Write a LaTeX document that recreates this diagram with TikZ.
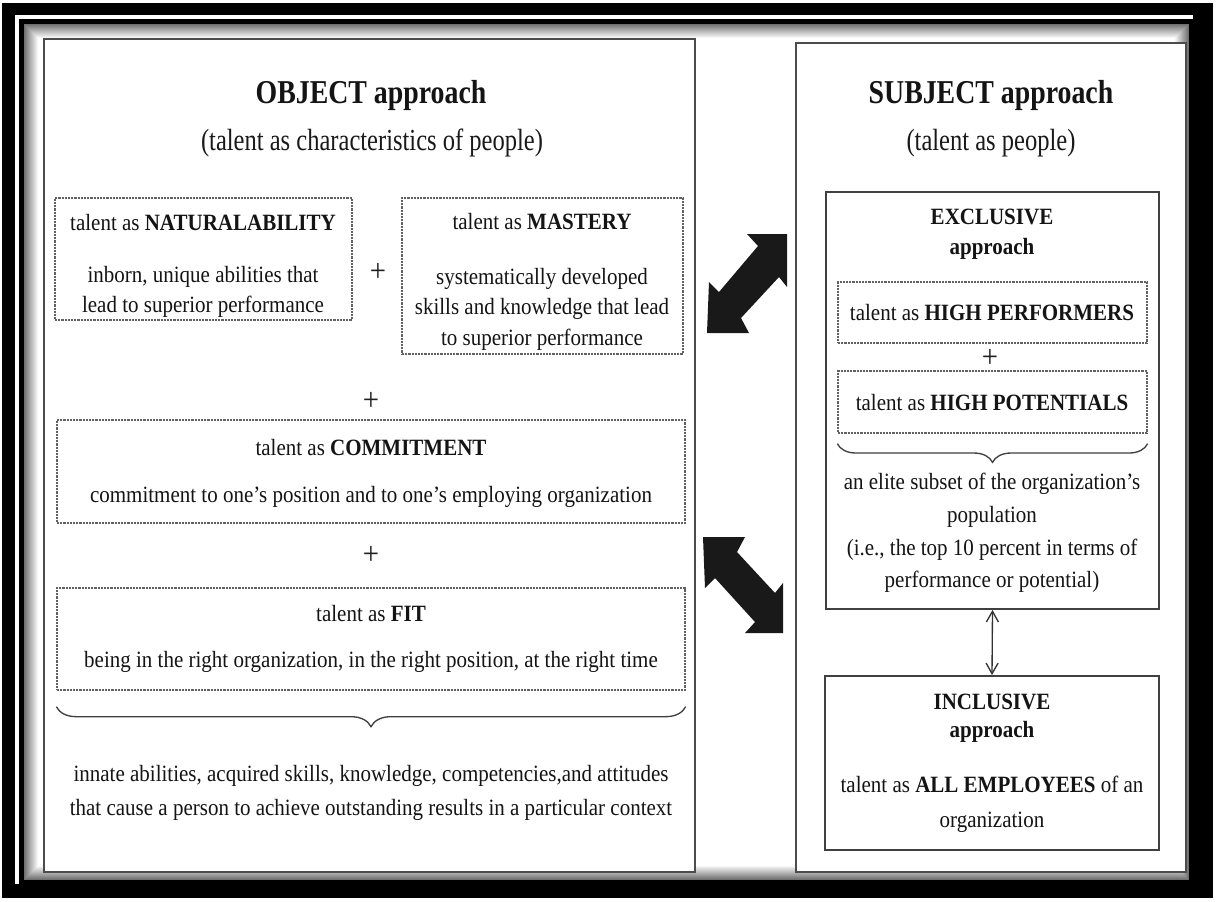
\documentclass[tikz,border=0pt]{standalone}
\usepackage{fontspec}
\setmainfont[FakeStretch=0.9]{Liberation Serif}
\newfontfamily\ttlfont[FakeStretch=0.835]{Liberation Serif}
\newfontfamily\subfont[FakeStretch=0.8]{Liberation Serif}
\usetikzlibrary{fit,calc,arrows.meta,decorations.pathreplacing}
\begin{document}
\begin{tikzpicture}[x=0.75pt,y=-0.75pt,
  txt/.style={font=\fontsize{17.5}{22.5}\selectfont, text=black!92, align=center, inner sep=0pt},
  ttl/.style={font=\ttlfont\fontsize{25}{30}\selectfont\bfseries, text=black!92, inner sep=0pt},
  subttl/.style={font=\subfont\fontsize{23}{26}\selectfont, text=black!90, inner sep=0pt},
  dbox/.style={draw=black!62, dash pattern=on 1.6pt off 0.8pt, line width=1pt, inner sep=0pt},
  sbox/.style={draw=black!75, line width=1.4pt, inner sep=0pt},
  panel/.style={draw=black!70, line width=1.6pt, fill=white, inner sep=0pt},
  bigarrow/.style={fill=black!90, draw=none},
  plussign/.style={font=\fontsize{24}{24}\selectfont, text=black!88, inner sep=0pt},
  brc/.style={draw=black!75, line width=1pt, decorate, decoration={brace, mirror, amplitude=#1}},
  thinarrow/.style={draw=black!80, line width=1pt, {Straight Barb[length=8pt,width=9pt]}-{Straight Barb[length=8pt,width=9pt]}},
]
\useasboundingbox (0,0) rectangle (1217,901);
\fill[white] (0,0) rectangle (1217,901);
% outer frame
\fill[black] (2,3) rectangle (1213,898);
\fill[white] (15,15) rectangle (1193,884);
\fill[black] (19,19) rectangle (1193,884);
\foreach \i [evaluate=\i as \c using 56-4*\i] in {0,...,14}
  \fill[black!\c] (24+\i,24+\i) rectangle (1189-\i,880-\i);

% panels
\node[panel, fit={(44,39) (695,872)}] (objp) {};
\node[panel, fit={(796,43) (1186,872)}] (subjp) {};

% ---------- left panel ----------
\node[ttl] (objt) at (371,95) {OBJECT approach};
\node[subttl] (objs) at (372,143) {(talent as characteristics of people)};

\node[dbox, fit={(55,198) (352,320)}] (nat) {};
\node[txt] (natt) at (203,223) {talent as \textbf{NATURALABILITY}};
\node[txt] (natb) at (203,292) {inborn, unique abilities that\\lead to superior performance};

\node[plussign] (p1) at (378,272) {+};

\node[dbox, fit={(402,198) (683,354)}] (mas) {};
\node[txt] (mast) at (542,222) {talent as \textbf{MASTERY}};
\node[txt, font=\fontsize{17.5}{22.8}\selectfont] (masb) at (542,309) {systematically developed\\skills and knowledge that lead\\to superior performance};

\node[plussign] (p2) at (371,401) {+};

\node[dbox, fit={(57,420) (685,523)}] (com) {};
\node[txt] (comt) at (371,448) {talent as \textbf{COMMITMENT}};
\node[txt] (comb) at (371,497) {commitment to one’s position and to one’s employing organization};

\node[plussign] (p3) at (371,555) {+};

\node[dbox, fit={(57,588) (685,690)}] (fitb) {};
\node[txt] (fitt) at (371,614) {talent as \textbf{FIT}};
\node[txt] (fitd) at (371,662) {being in the right organization, in the right position, at the right time};

\draw[brc=15pt] ($(fitb.south west)+(0,16)$) -- ($(fitb.south east)+(0,16)$);

\node[txt, font=\fontsize{17.5}{25.5}\selectfont] (inn) at (371,793) {innate abilities, acquired skills, knowledge, competencies,and attitudes\\that cause a person to achieve outstanding results in a particular context};

% ---------- big arrows ----------
\fill[bigarrow] (707,333) -- (749,333) -- (741,318) -- (779,277) -- (787,287) -- (787,234)
  -- (747,234) -- (758,246) -- (719,292) -- (709,282) -- cycle;
\fill[bigarrow] (703,537) -- (745,537) -- (737,552) -- (775,593) -- (783,583) -- (783,633)
  -- (745,633) -- (755,622) -- (715,578) -- (705,588) -- cycle;

% ---------- right panel ----------
\node[ttl] (subt) at (991,95) {SUBJECT approach};
\node[subttl] (subs) at (991,143) {(talent as people)};

\node[sbox, fit={(826,192) (1159,609)}] (excl) {};
\node[txt, font=\fontsize{17.5}{22.5}\selectfont\bfseries] (exclt) at (992,234) {EXCLUSIVE\\approach};

\node[dbox, fit={(838,282) (1147,343)}] (hp) {};
\node[txt] (hpt) at (992,313) {talent as \textbf{HIGH PERFORMERS}};

\node[plussign] (p4) at (990,358) {+};

\node[dbox, fit={(838,371) (1147,433)}] (hpot) {};
\node[txt] (hpott) at (992,403) {talent as \textbf{HIGH POTENTIALS}};

\draw[brc=14pt] ($(hpot.south west)+(0,10)$) -- ($(hpot.south east)+(0,10)$);

\node[txt, font=\fontsize{17.5}{24.5}\selectfont] (elite) at (992,533) {an elite subset of the organization’s\\population\\(i.e., the top 10 percent in terms of\\performance or potential)};

\node[sbox, fit={(825,676) (1159,850)}] (incl) {};
\node[txt, font=\fontsize{17.5}{21}\selectfont\bfseries] (inclt) at (992,718) {INCLUSIVE\\approach};
\node[txt, font=\fontsize{17.5}{26.5}\selectfont] (inclb) at (992,804) {talent as \textbf{ALL EMPLOYEES} of an\\organization};

\draw[thinarrow] (excl.south) -- (incl.north);
\end{tikzpicture}
\end{document}
